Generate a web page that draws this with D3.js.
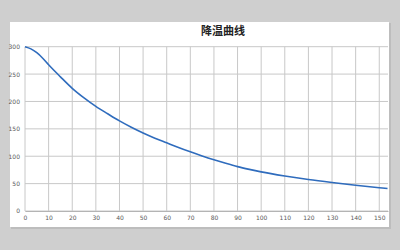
<!DOCTYPE html>
<html lang="zh">
<head>
<meta charset="UTF-8">
<script src="https://d3js.org/d3.v7.min.js"></script>
<style>
    body { margin: 0; background: #cfcfcf; }
    .tick text { font: 6px "DejaVu Sans", sans-serif; fill: #595959; }
    .chart-title { font: bold 11px "Noto Sans CJK SC", sans-serif; fill: #222; text-anchor: middle; }
</style>
<title>降温曲线</title>
</head>
<body>
<div id="chart"></div>
<script>
// Data
const timeValues = [0, 2.5, 5, 7.5, 10, 15, 20, 25, 30, 35, 40, 45, 50, 55, 60, 65, 70, 75, 80, 85, 90, 95, 100, 110, 120, 130, 140, 150, 153.5];
const tempValues = [300, 296, 289, 279, 267, 245, 224, 206.5, 191, 177.5, 164.5, 153, 142.5, 133, 124.5, 116, 108, 100.5, 93.5, 87, 81, 76, 71.5, 64, 57.5, 52, 47, 42.5, 41];
const xTicks = d3.range(0, 151, 10);
const yTicks = d3.range(0, 301, 50);
const title = "降温曲线";

const dataset = timeValues.map((t, i) => ({ t: t, v: tempValues[i] }));

// Dimensions
const width = 400, height = 250;
const plot = { left: 25, right: 388, top: 46.7, bottom: 211 };

const svg = d3.select("#chart").append("svg")
    .attr("width", width)
    .attr("height", height)
    .style("display", "block");

// panel + shadow
svg.append("rect").attr("x", 11).attr("y", 23).attr("width", 380).attr("height", 206).attr("fill", "#bdbdbd");
svg.append("rect").attr("x", 10).attr("y", 22).attr("width", 379).attr("height", 205).attr("fill", "#fff");

// Scales
const xScale = d3.scaleLinear().domain([0, 153.7]).range([plot.left, plot.right]);
const yScale = d3.scaleLinear().domain([0, 300]).range([plot.bottom, plot.top]);

// Grid
svg.append("g").selectAll("line").data(yTicks).join("line")
    .attr("x1", plot.left).attr("x2", plot.right)
    .attr("y1", d => yScale(d)).attr("y2", d => yScale(d))
    .attr("stroke", "#c8c8c8").attr("stroke-width", 1);
svg.append("g").selectAll("line").data(xTicks).join("line")
    .attr("x1", d => xScale(d)).attr("x2", d => xScale(d))
    .attr("y1", plot.top).attr("y2", plot.bottom)
    .attr("stroke", "#c8c8c8").attr("stroke-width", 1);

// Axis
const yAxis = d3.axisLeft(yScale).tickValues(yTicks).tickSize(0).tickPadding(5);
svg.append("g").attr("transform", `translate(${plot.left},0)`).call(yAxis)
    .call(g => g.select(".domain").remove());

const xAxis = d3.axisBottom(xScale).tickValues(xTicks).tickSize(0).tickPadding(5);
svg.append("g").attr("transform", `translate(0,${plot.bottom})`).call(xAxis)
    .call(g => g.select(".domain").attr("stroke", "#b4b4b4"));

// Line
const lineGenerator = d3.line()
    .x(d => xScale(d.t))
    .y(d => yScale(d.v))
    .curve(d3.curveMonotoneX);

svg.append("path")
    .datum(dataset)
    .attr("d", lineGenerator)
    .attr("fill", "none")
    .attr("stroke", "#2f6cbd")
    .attr("stroke-width", 1.6);

svg.append("text")
    .attr("class", "chart-title")
    .attr("x", 223)
    .attr("y", 35)
    .text(title);
</script>
</body>
</html>
